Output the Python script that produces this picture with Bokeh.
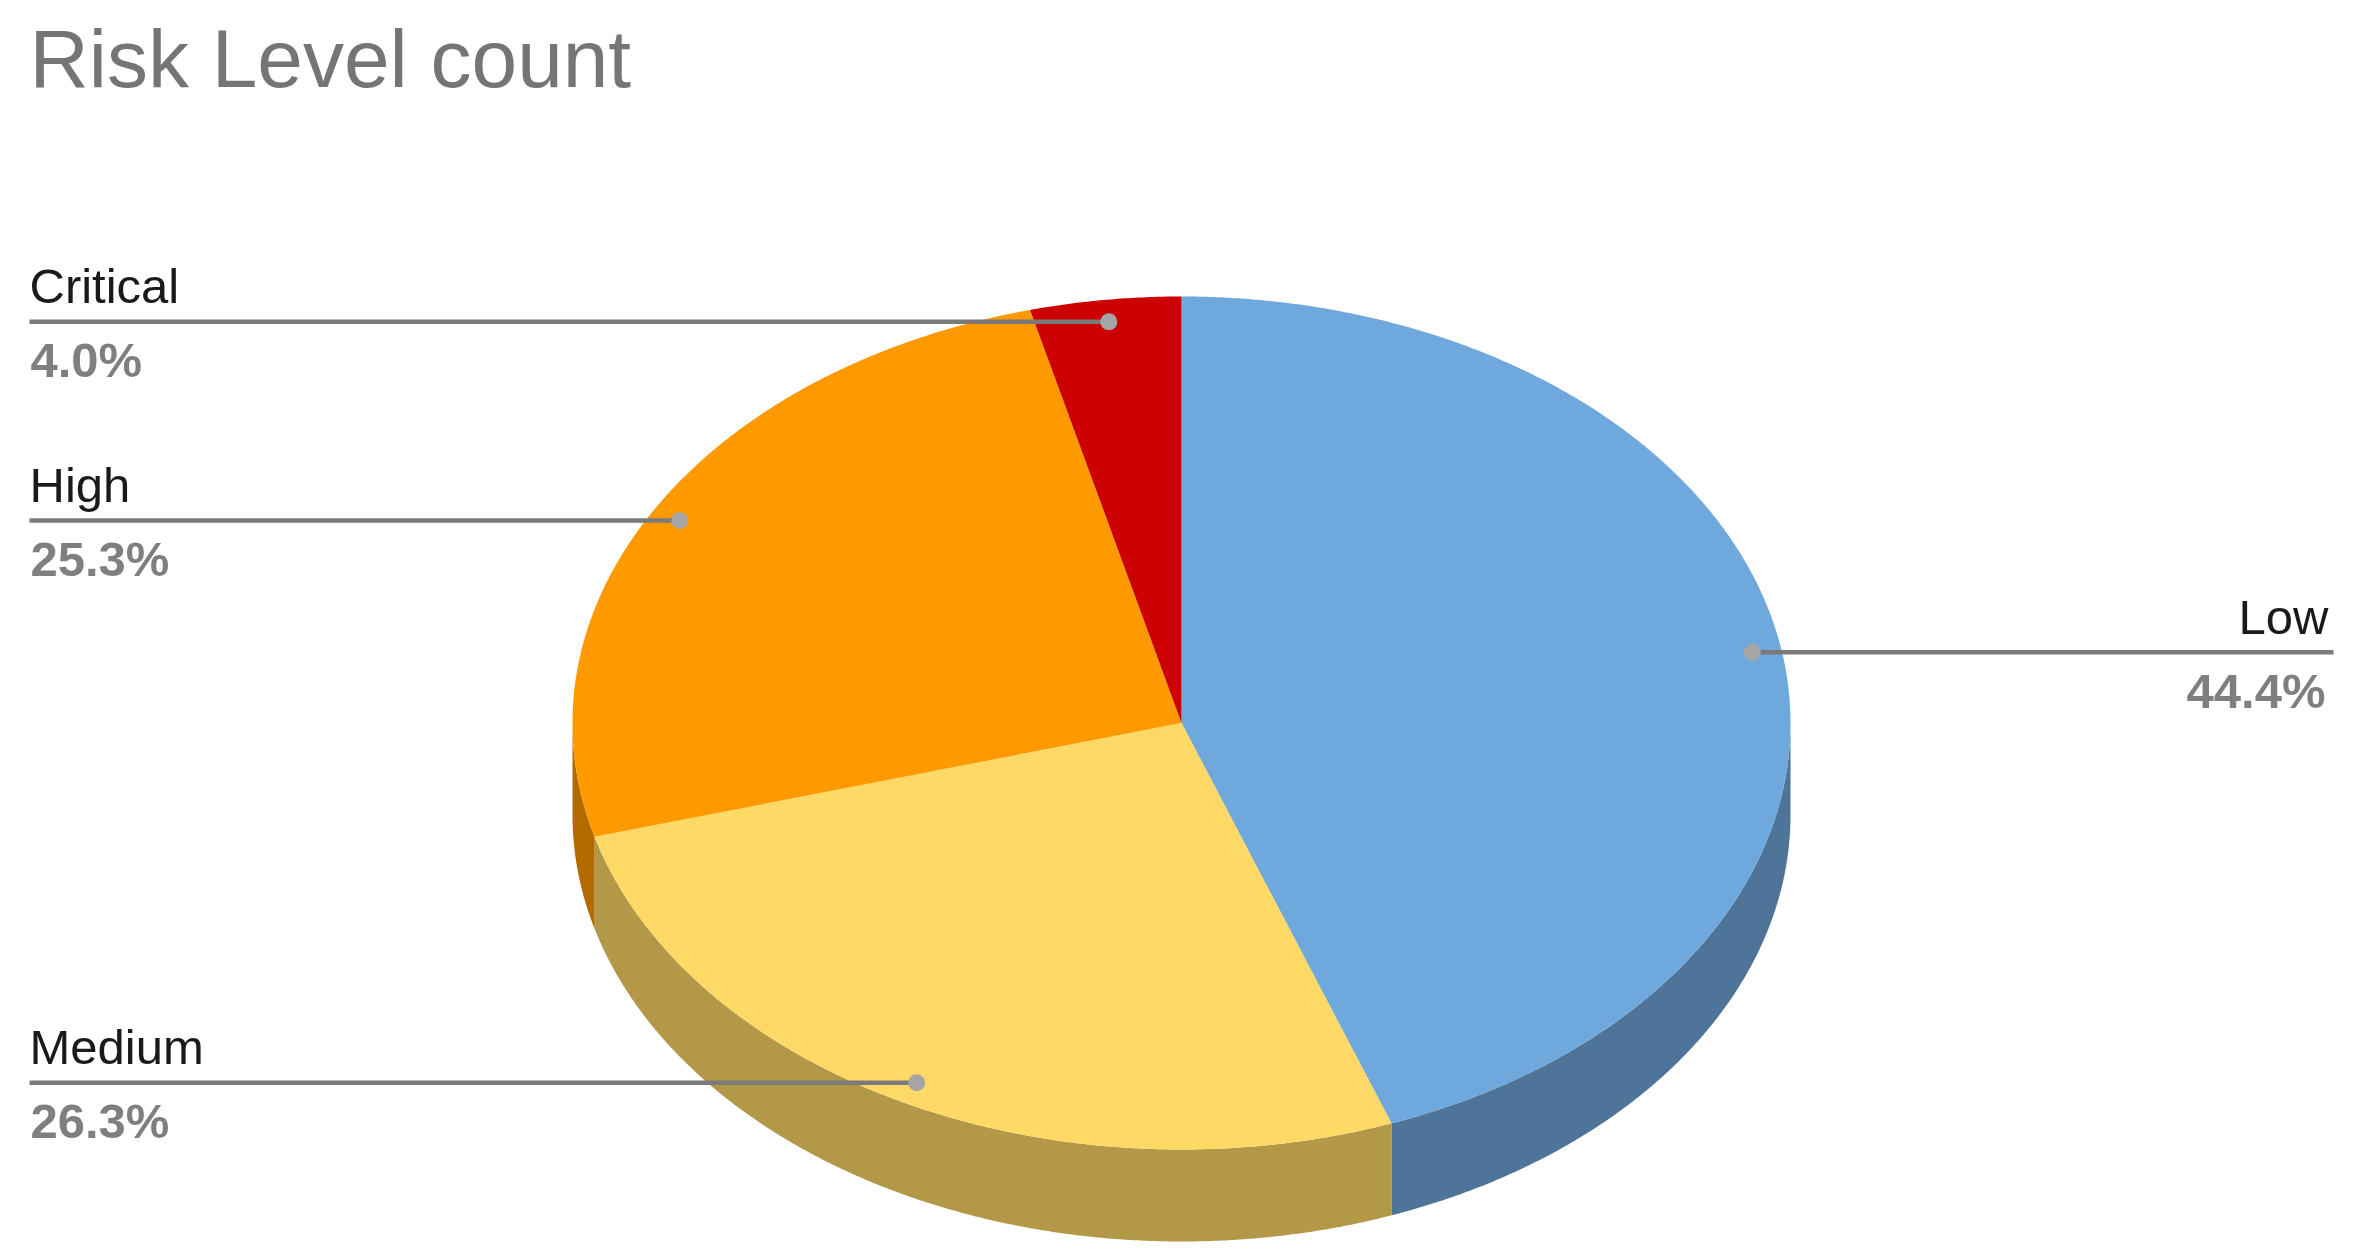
import math
from bokeh.core.properties import value
from bokeh.embed import file_html
from bokeh.models import Range1d
from bokeh.plotting import figure
from bokeh.resources import INLINE

# ---- data (clockwise from 12 o'clock) ----
categories = ["Low", "Medium", "High", "Critical"]
percents = [44.4, 26.3, 25.3, 4.0]
top_colors = ["#6fa8dc", "#ffd966", "#ff9900", "#cc0000"]
side_colors = ["#4e7599", "#b29847", "#b36b00", "#8f0000"]
title_text = "Risk Level count"

# ---- layout, in page pixels ----
CX, CY, RX, RY, DEPTH = 1181.0, 722.5, 609.0, 426.5, 92.0
DOT_RX, DOT_RY = 0.952, 0.948
FONT = value("Liberation Sans")
GREY = "#757575"
SHIFT = 0.38  # the drawn text sits this many em under the asked baseline
LABEL_PX = 49


def pt(deg, kx=1.0, ky=1.0):
    a = math.radians(deg)
    return CX + RX * kx * math.sin(a), CY - RY * ky * math.cos(a)


def arc(a0, a1):
    n = max(2, int(abs(a1 - a0) * 3))
    return [pt(a0 + (a1 - a0) * i / n) for i in range(n + 1)]


p = figure(
    width=2349, height=1244, output_backend="svg", toolbar_location=None,
    x_range=Range1d(0, 2349), y_range=Range1d(1244, 0),
    x_axis_type=None, y_axis_type=None, min_border=0,
    outline_line_color=None, background_fill_color="white",
)

spans = []
start = 0.0
for v in percents:
    spans.append((start, start + v * 3.6))
    start += v * 3.6

# side walls: the visible front half of the rim, 90 to 270 degrees
for (a0, a1), col in zip(spans, side_colors):
    lo, hi = max(a0, 90.0), min(a1, 270.0)
    if lo >= hi:
        continue
    rim = arc(lo, hi)
    xs = [q[0] for q in rim] + [q[0] for q in reversed(rim)]
    ys = [q[1] for q in rim] + [q[1] + DEPTH for q in reversed(rim)]
    p.patch(xs, ys, fill_color=col, line_color=None)

# top face
for (a0, a1), col in zip(spans, top_colors):
    rim = arc(a0, a1)
    xs = [CX] + [q[0] for q in rim]
    ys = [CY] + [q[1] for q in rim]
    p.patch(xs, ys, fill_color=col, line_color=None)

# leaders and labels
left_edge, right_edge = 29.0, 2333.0
dots_x, dots_y = [], []
for cat, v, (a0, a1) in zip(categories, percents, spans):
    dx, dy = pt((a0 + a1) / 2, DOT_RX, DOT_RY)
    dots_x.append(dx)
    dots_y.append(dy)
    right = dx > CX
    end = right_edge if right else left_edge
    p.line([dx, end], [dy, dy], line_color="#7a7a7a", line_width=4.5)
    align = "right" if right else "left"
    p.text([right_edge - 5 if right else left_edge], [dy - 17 - SHIFT * LABEL_PX], text=[cat],
           text_font=FONT, text_font_size=f"{LABEL_PX}px", text_color="#1a1a1a",
           text_align=align, text_baseline="alphabetic")
    p.text([right_edge - 8 if right else left_edge + 1], [dy + 57 - SHIFT * LABEL_PX], text=[f"{v:.1f}%"],
           text_font=FONT, text_font_size=f"{LABEL_PX}px", text_font_style="bold",
           text_color="#7f7f7f", text_align=align, text_baseline="alphabetic")

p.scatter(dots_x, dots_y, size=17, fill_color="#a5a5a5", line_color=None)

p.text([29], [89 - SHIFT * 82], text=[title_text], text_font=FONT, text_font_size="82px",
       text_color=GREY, text_align="left", text_baseline="alphabetic")

open("out.html", "w").write(file_html(p, INLINE))
